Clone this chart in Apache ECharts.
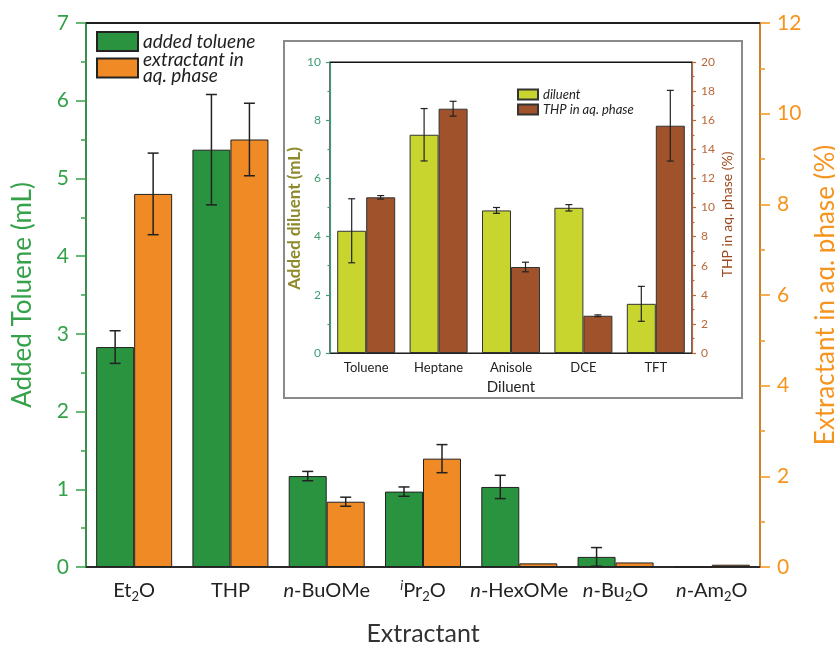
<!DOCTYPE html>
<html>
<head>
<meta charset="utf-8">
<script src="https://cdn.jsdelivr.net/npm/echarts@6/dist/echarts.min.js"></script>
<style>
html,body{margin:0;padding:0;background:#fff;}
#c{width:835px;height:646px;}
</style>
</head>
<body>
<div id="c"></div>
<script>
// ---------- data ----------
const extractants = ['Et2O', 'THP', 'n-BuOMe', 'iPr2O', 'n-HexOMe', 'n-Bu2O', 'n-Am2O'];
const extractantLabels = [
  '{r|Et}{sub|2}{r|O}', '{r|THP}', '{i|n}{r|-BuOMe}', '{sup|i}{r|Pr}{sub|2}{r|O}',
  '{i|n}{r|-HexOMe}', '{i|n}{r|-Bu}{sub|2}{r|O}', '{i|n}{r|-Am}{sub|2}{r|O}'
];
const addedToluene = [2.83, 5.37, 1.17, 0.97, 1.03, 0.13, 0];
const addedTolueneErr = [0.21, 0.71, 0.06, 0.06, 0.15, 0.12, null];
const extractantAq = [8.23, 9.43, 1.44, 2.39, 0.08, 0.10, 0.05];
const extractantAqErr = [0.90, 0.80, 0.10, 0.31, null, null, null];

const diluents = ['Toluene', 'Heptane', 'Anisole', 'DCE', 'TFT'];
const addedDiluent = [4.20, 7.50, 4.90, 4.99, 1.69];
const addedDiluentErr = [1.10, 0.90, 0.10, 0.11, 0.60];
const thpAq = [10.70, 16.79, 5.91, 2.56, 15.62];
const thpAqErr = [0.12, 0.51, 0.33, 0.06, 2.43];

const mainLeftTicks = [0, 7, 1];
const mainRightTicks = [0, 12, 2];
const insetLeftTicks = [0, 10, 2];
const insetRightTicks = [0, 20, 2];

// ---------- styling ----------
const FONT = 'Lato';
const GREEN = '#2a9340', ORANGE = '#ef8a24';
const GREEN_AX = '#35a24a', ORANGE_AX = '#f7941e';
const YG = '#c9d52f', BROWN = '#a0522b';
const INS_L = '#3d9c72', INS_LNAME = '#8e8a2c', INS_R = '#b8683a', INS_RNAME = '#9c4b20';

function errData(vals, errs) {
  const out = [];
  vals.forEach((v, i) => { if (errs[i] != null) out.push([i, v - errs[i], v + errs[i]]); });
  return out;
}
function errSeries(xi, yi, vals, errs, off, cap, w) {
  return {
    type: 'custom', xAxisIndex: xi, yAxisIndex: yi, z: 5,
    encode: { x: 0, y: [1, 2] },
    data: errData(vals, errs),
    renderItem: function (params, api) {
      const lo = api.coord([api.value(0), api.value(1)]);
      const hi = api.coord([api.value(0), api.value(2)]);
      const x = lo[0] + off;
      const st = { stroke: '#222', lineWidth: w };
      return { type: 'group', children: [
        { type: 'line', shape: { x1: x, y1: lo[1], x2: x, y2: hi[1] }, style: st },
        { type: 'line', shape: { x1: x - cap, y1: lo[1], x2: x + cap, y2: lo[1] }, style: st },
        { type: 'line', shape: { x1: x - cap, y1: hi[1], x2: x + cap, y2: hi[1] }, style: st }
      ]};
    }
  };
}

const chart = echarts.init(document.getElementById('c'), null, { renderer: 'canvas' });
const richMain = {
  r: { fontFamily: FONT, fontSize: 20, color: '#222', lineHeight: 24 },
  i: { fontFamily: FONT, fontSize: 20, color: '#222', fontStyle: 'italic', lineHeight: 24 },
  sub: { fontFamily: FONT, fontSize: 13, color: '#222', verticalAlign: 'bottom', lineHeight: 24 },
  sup: { fontFamily: FONT, fontSize: 13, color: '#222', fontStyle: 'italic', verticalAlign: 'top', lineHeight: 24 }
};
const topAxis = (gi, n, w) => ({
  type: 'category', gridIndex: gi, position: 'top', data: n,
  axisLine: { show: true, onZero: false, lineStyle: { color: '#111', width: w } },
  axisTick: { show: false }, axisLabel: { show: false }, splitLine: { show: false }
});

chart.setOption({
  animation: false,
  backgroundColor: '#fff',
  textStyle: { fontFamily: FONT },
  graphic: [{
    type: 'rect', z: -10, silent: true,
    shape: { x: 284, y: 41, width: 458, height: 357 },
    style: { fill: 'none', stroke: '#8a8a8a', lineWidth: 2 }
  }],
  grid: [
    { left: 86, right: 75, top: 23, bottom: 79, outerBoundsMode: 'none', containLabel: false,
      show: true, borderColor: '#111', borderWidth: 1.5, backgroundColor: 'transparent' },
    { left: 330, right: 143, top: 62, bottom: 293, outerBoundsMode: 'none', containLabel: false,
      show: true, borderColor: '#111', borderWidth: 1.2, backgroundColor: 'transparent' }
  ],
  legend: [
    { data: ['added toluene'], left: 96, top: 31, padding: 0, itemWidth: 41, itemHeight: 19, icon: 'rect',
      textStyle: { fontFamily: FONT, fontSize: 19, fontStyle: 'italic', color: '#222', lineHeight: 16 } },
    { data: ['extractant in aq. phase'], left: 96, top: 44, padding: 0, itemWidth: 41, itemHeight: 19, icon: 'rect',
      formatter: () => 'extractant in\naq. phase',
      textStyle: { fontFamily: FONT, fontSize: 19, fontStyle: 'italic', color: '#222', lineHeight: 16, padding: [16, 0, 0, 0] } },
    { data: ['diluent', 'THP in aq. phase'], left: 517, top: 88, padding: 0, orient: 'vertical', itemGap: 2,
      itemWidth: 20, itemHeight: 10, icon: 'rect',
      textStyle: { fontFamily: FONT, fontSize: 13, fontStyle: 'italic', color: '#222', lineHeight: 12 } }
  ],
  xAxis: [
    { type: 'category', gridIndex: 0, data: extractants,
      axisLine: { onZero: false, lineStyle: { color: '#222', width: 1.5 } },
      axisTick: { alignWithLabel: true, length: 9, lineStyle: { color: '#222', width: 1.5 } },
      axisLabel: { interval: 0, margin: 12, formatter: (v, i) => extractantLabels[i], rich: richMain },
      name: 'Extractant', nameLocation: 'middle', nameGap: 54,
      nameTextStyle: { fontFamily: FONT, fontSize: 25, color: '#333' } },
    { type: 'category', gridIndex: 1, data: diluents,
      axisLine: { onZero: false, lineStyle: { color: '#222', width: 1.2 } },
      axisTick: { alignWithLabel: true, length: 5, lineStyle: { color: '#222', width: 1.2 } },
      axisLabel: { interval: 0, margin: 8, fontFamily: FONT, fontSize: 13, color: '#222' },
      name: 'Diluent', nameLocation: 'middle', nameGap: 27,
      nameTextStyle: { fontFamily: FONT, fontSize: 15, color: '#222' } },
    topAxis(0, extractants, 1.5),
    topAxis(1, diluents, 1.2)
  ],
  yAxis: [
    { type: 'value', gridIndex: 0, min: mainLeftTicks[0], max: mainLeftTicks[1], interval: mainLeftTicks[2],
      axisLine: { show: true, onZero: false, lineStyle: { color: GREEN_AX, width: 1.5 } },
      axisTick: { show: true, length: 10, lineStyle: { color: GREEN_AX, width: 1.5 } },
      minorTick: { show: true, splitNumber: 2, length: 5, lineStyle: { color: GREEN_AX, width: 1.5 } },
      splitLine: { show: false },
      axisLabel: { margin: 17, fontFamily: FONT, fontSize: 21, color: GREEN_AX },
      name: 'Added Toluene (mL)', nameLocation: 'middle', nameGap: 50, nameRotate: 90,
      nameTextStyle: { fontFamily: FONT, fontSize: 26, color: GREEN_AX } },
    { type: 'value', gridIndex: 0, position: 'right', min: mainRightTicks[0], max: mainRightTicks[1], interval: mainRightTicks[2],
      axisLine: { show: true, onZero: false, lineStyle: { color: ORANGE_AX, width: 1.5 } },
      axisTick: { show: true, length: 10, lineStyle: { color: ORANGE_AX, width: 1.5 } },
      minorTick: { show: true, splitNumber: 2, length: 5, lineStyle: { color: ORANGE_AX, width: 1.5 } },
      splitLine: { show: false },
      axisLabel: { margin: 17, fontFamily: FONT, fontSize: 21, color: ORANGE_AX },
      name: 'Extractant in aq. phase (%)', nameLocation: 'middle', nameGap: 48, nameRotate: 90,
      nameTextStyle: { fontFamily: FONT, fontSize: 26, color: ORANGE_AX } },
    { type: 'value', gridIndex: 1, min: insetLeftTicks[0], max: insetLeftTicks[1], interval: insetLeftTicks[2],
      axisLine: { show: true, onZero: false, lineStyle: { color: INS_L, width: 1.2 } },
      axisTick: { show: true, length: 4, lineStyle: { color: INS_L, width: 1.2 } },
      minorTick: { show: true, splitNumber: 2, length: 2.5, lineStyle: { color: INS_L, width: 1.2 } },
      splitLine: { show: false },
      axisLabel: { margin: 9, fontFamily: FONT, fontSize: 12, color: INS_L },
      name: 'Added diluent (mL)', nameLocation: 'middle', nameGap: 24, nameRotate: 90,
      nameTextStyle: { fontFamily: FONT, fontSize: 17, fontWeight: 'bold', color: INS_LNAME, padding: [0, 22, 0, 0] } },
    { type: 'value', gridIndex: 1, position: 'right', min: insetRightTicks[0], max: insetRightTicks[1], interval: insetRightTicks[2],
      axisLine: { show: true, onZero: false, lineStyle: { color: INS_R, width: 1.2 } },
      axisTick: { show: true, length: 4, lineStyle: { color: INS_R, width: 1.2 } },
      minorTick: { show: true, splitNumber: 2, length: 2.5, lineStyle: { color: INS_R, width: 1.2 } },
      splitLine: { show: false },
      axisLabel: { margin: 9, fontFamily: FONT, fontSize: 12, color: INS_R },
      name: 'THP in aq. phase (%)', nameLocation: 'middle', nameGap: 28, nameRotate: 90,
      nameTextStyle: { fontFamily: FONT, fontSize: 14, color: INS_RNAME, padding: [0, 14, 0, 0] } }
  ],
  series: [
    { name: 'added toluene', type: 'bar', xAxisIndex: 0, yAxisIndex: 0, data: addedToluene,
      barWidth: 38, barGap: '0%', itemStyle: { color: GREEN, borderColor: '#222', borderWidth: 1 } },
    { name: 'extractant in aq. phase', type: 'bar', xAxisIndex: 0, yAxisIndex: 1, data: extractantAq,
      barWidth: 38, barGap: '0%', itemStyle: { color: ORANGE, borderColor: '#222', borderWidth: 1 } },
    errSeries(0, 0, addedToluene, addedTolueneErr, -19, 5.5, 1.5),
    errSeries(0, 1, extractantAq, extractantAqErr, 19, 5.5, 1.5),
    { name: 'diluent', type: 'bar', xAxisIndex: 1, yAxisIndex: 2, data: addedDiluent,
      barWidth: 29, barGap: '0%', itemStyle: { color: YG, borderColor: '#333', borderWidth: 1 } },
    { name: 'THP in aq. phase', type: 'bar', xAxisIndex: 1, yAxisIndex: 3, data: thpAq,
      barWidth: 29, barGap: '0%', itemStyle: { color: BROWN, borderColor: '#333', borderWidth: 1 } },
    errSeries(1, 2, addedDiluent, addedDiluentErr, -14.5, 3.5, 1.2),
    errSeries(1, 3, thpAq, thpAqErr, 14.5, 3.5, 1.2)
  ]
});
</script>
</body>
</html>
